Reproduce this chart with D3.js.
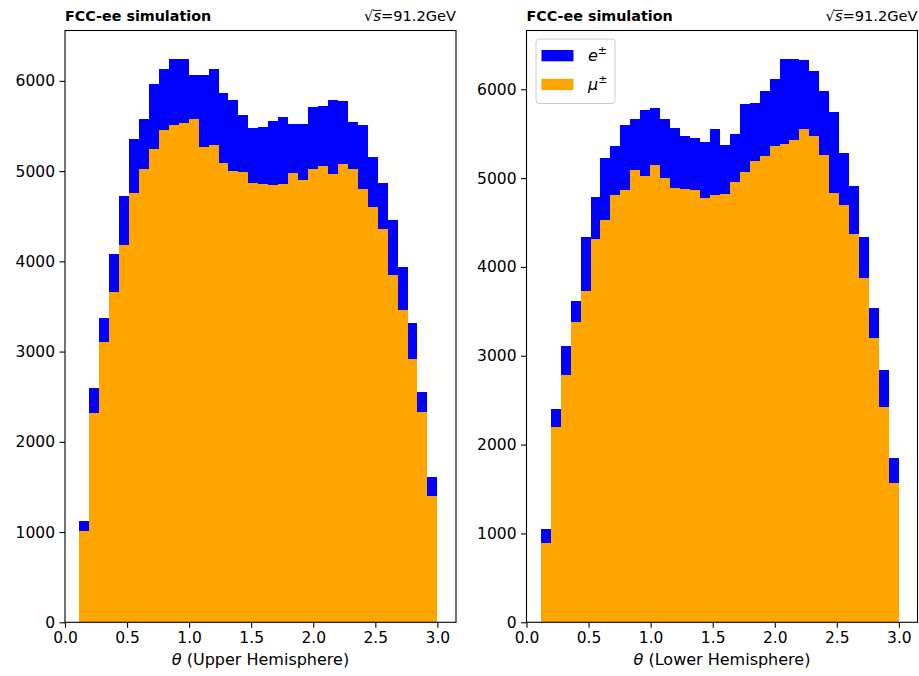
<!DOCTYPE html>
<html>
<head>
<meta charset="utf-8">
<script src="https://cdn.jsdelivr.net/npm/d3@7"></script>
<style>
  body { margin: 0; background: #fff; }
  svg { display: block; }
  text { font-family: "DejaVu Sans", sans-serif; fill: #000; }
</style>
</head>
<body>
<svg id="fig" width="919" height="676"></svg>
<script>
// Histogram binning in theta
const binLo = 0.115, binHi = 3.0, binCount = 36;

// Upper hemisphere counts per bin
const upperMuon = [1014,2314,3107,3661,4186,4762,5027,5241,5452,5507,5533,5581,5267,5293,5094,5001,4990,4868,
                   4862,4843,4862,4979,4898,5027,5053,4964,5083,5027,4806,4602,4363,3846,3458,2923,2326,1399];
const upperElectron = [111,284,260,425,538,597,554,728,675,739,713,487,801,834,771,783,628,609,
                       627,708,738,539,620,683,664,820,694,517,709,554,510,609,480,399,228,207];

// Lower hemisphere counts per bin
const lowerMuon = [895,2200,2782,3381,3730,4319,4525,4806,4863,5088,5024,5152,5001,4893,4882,4863,4781,4806,
                   4818,4956,5069,5189,5245,5361,5388,5425,5557,5470,5256,4833,4694,4376,3881,3195,2425,1570];
const lowerElectron = [154,199,329,237,607,468,706,555,731,581,747,637,668,675,588,593,625,751,
                       559,544,769,660,735,758,956,911,768,735,724,911,588,532,456,348,413,275];

const xTickValues = [0, 0.5, 1.0, 1.5, 2.0, 2.5, 3.0];
const yTickValues = [0, 1000, 2000, 3000, 4000, 5000, 6000];
const xLabels = ["(Upper Hemisphere)", "(Lower Hemisphere)"];
const titleLeft = "FCC-ee simulation";
const energyText = "=91.2GeV";

const colorE = "#0000ff", colorMu = "#ffa500";

const svg = d3.select("#fig");
const W = 391, plotTop = 30.5, plotBottom = 622.3;
const panels = [
  { left: 65, muon: upperMuon, electron: upperElectron, xlabel: xLabels[0], legend: false },
  { left: 526.5, muon: lowerMuon, electron: lowerElectron, xlabel: xLabels[1], legend: true }
];

const binWidth = (binHi - binLo) / binCount;

panels.forEach(p => {
  const g = svg.append("g");
  const totals = p.muon.map((m, i) => m + p.electron[i]);
  const x = d3.scaleLinear().domain([0, 3.15]).range([p.left, p.left + W]);
  const y = d3.scaleLinear().domain([0, d3.max(totals) * 1.05]).range([plotBottom, plotTop]);

  const bins = p.muon.map((m, i) => ({
    x0: binLo + i * binWidth, x1: binLo + (i + 1) * binWidth, mu: m, e: p.electron[i]
  }));

  // muons at the bottom of the stack
  g.selectAll("rect.mu").data(bins).join("rect").attr("class", "mu")
    .attr("x", d => x(d.x0)).attr("width", d => x(d.x1) - x(d.x0))
    .attr("y", d => y(d.mu)).attr("height", d => y(0) - y(d.mu))
    .attr("fill", colorMu).attr("shape-rendering", "crispEdges");
  // electrons stacked on top
  g.selectAll("rect.e").data(bins).join("rect").attr("class", "e")
    .attr("x", d => x(d.x0)).attr("width", d => x(d.x1) - x(d.x0))
    .attr("y", d => y(d.mu + d.e)).attr("height", d => y(d.mu) - y(d.mu + d.e))
    .attr("fill", colorE).attr("shape-rendering", "crispEdges");

  // axes
  const xAxis = d3.axisBottom(x).tickValues(xTickValues).tickFormat(d3.format(".1f"))
    .tickSize(5.5).tickPadding(4.5);
  const yAxis = d3.axisLeft(y).tickValues(yTickValues).tickFormat(d3.format("d"))
    .tickSize(5.5).tickPadding(4.5);
  const gx = g.append("g").attr("transform", `translate(0,${plotBottom})`).call(xAxis);
  const gy = g.append("g").attr("transform", `translate(${p.left},0)`).call(yAxis);
  [gx, gy].forEach(a => {
    a.select(".domain").remove();
    a.selectAll(".tick line").attr("stroke", "#000").attr("stroke-width", 1.1);
    a.selectAll(".tick text").attr("font-size", 15.5).attr("fill", "#000")
      .style("font-family", "'DejaVu Sans', sans-serif");
  });

  // frame
  g.append("rect").attr("x", p.left).attr("y", plotTop).attr("width", W).attr("height", plotBottom - plotTop)
    .attr("fill", "none").attr("stroke", "#000").attr("stroke-width", 1.1);

  // x label
  const xl = g.append("text").attr("x", p.left + W / 2).attr("y", 665)
    .attr("text-anchor", "middle").attr("font-size", 16);
  xl.append("tspan").attr("font-style", "italic").text("θ");
  xl.append("tspan").text(" " + p.xlabel);

  // titles
  g.append("text").attr("x", p.left).attr("y", 21).attr("font-size", 14.3)
    .attr("font-weight", "bold").text(titleLeft);
  const tr = g.append("text").attr("x", p.left + W).attr("y", 21).attr("font-size", 14.6)
    .attr("text-anchor", "end");
  tr.append("tspan").text("√");
  tr.append("tspan").attr("font-style", "italic").text("s");
  tr.append("tspan").text(energyText);
  const node = tr.node();
  const r0 = node.getExtentOfChar(0), r1 = node.getExtentOfChar(1);
  g.append("line").attr("x1", r0.x + r0.width - 0.5).attr("x2", r1.x + r1.width + 0.5)
    .attr("y1", 10.4).attr("y2", 10.4).attr("stroke", "#000").attr("stroke-width", 0.9);

  if (p.legend) {
    const lg = g.append("g");
    const lx = p.left + 9.5, ly = 39;
    lg.append("rect").attr("x", lx).attr("y", ly).attr("width", 79).attr("height", 64.5)
      .attr("rx", 3).attr("fill", "#fff").attr("fill-opacity", 0.8)
      .attr("stroke", "#cccccc").attr("stroke-width", 1);
    const entries = [{ sym: "e", color: colorE }, { sym: "μ", color: colorMu }];
    entries.forEach((en, i) => {
      const hy = ly + 11 + i * 28.8;
      lg.append("rect").attr("x", lx + 5.5).attr("y", hy).attr("width", 32).attr("height", 11.3)
        .attr("fill", en.color);
      const t = lg.append("text").attr("x", lx + 52).attr("y", hy + 11.3).attr("font-size", 16);
      t.append("tspan").attr("font-style", "italic").text(en.sym);
      t.append("tspan").attr("font-size", 11).attr("dy", -7).text("±");
    });
  }
});
</script>
</body>
</html>
